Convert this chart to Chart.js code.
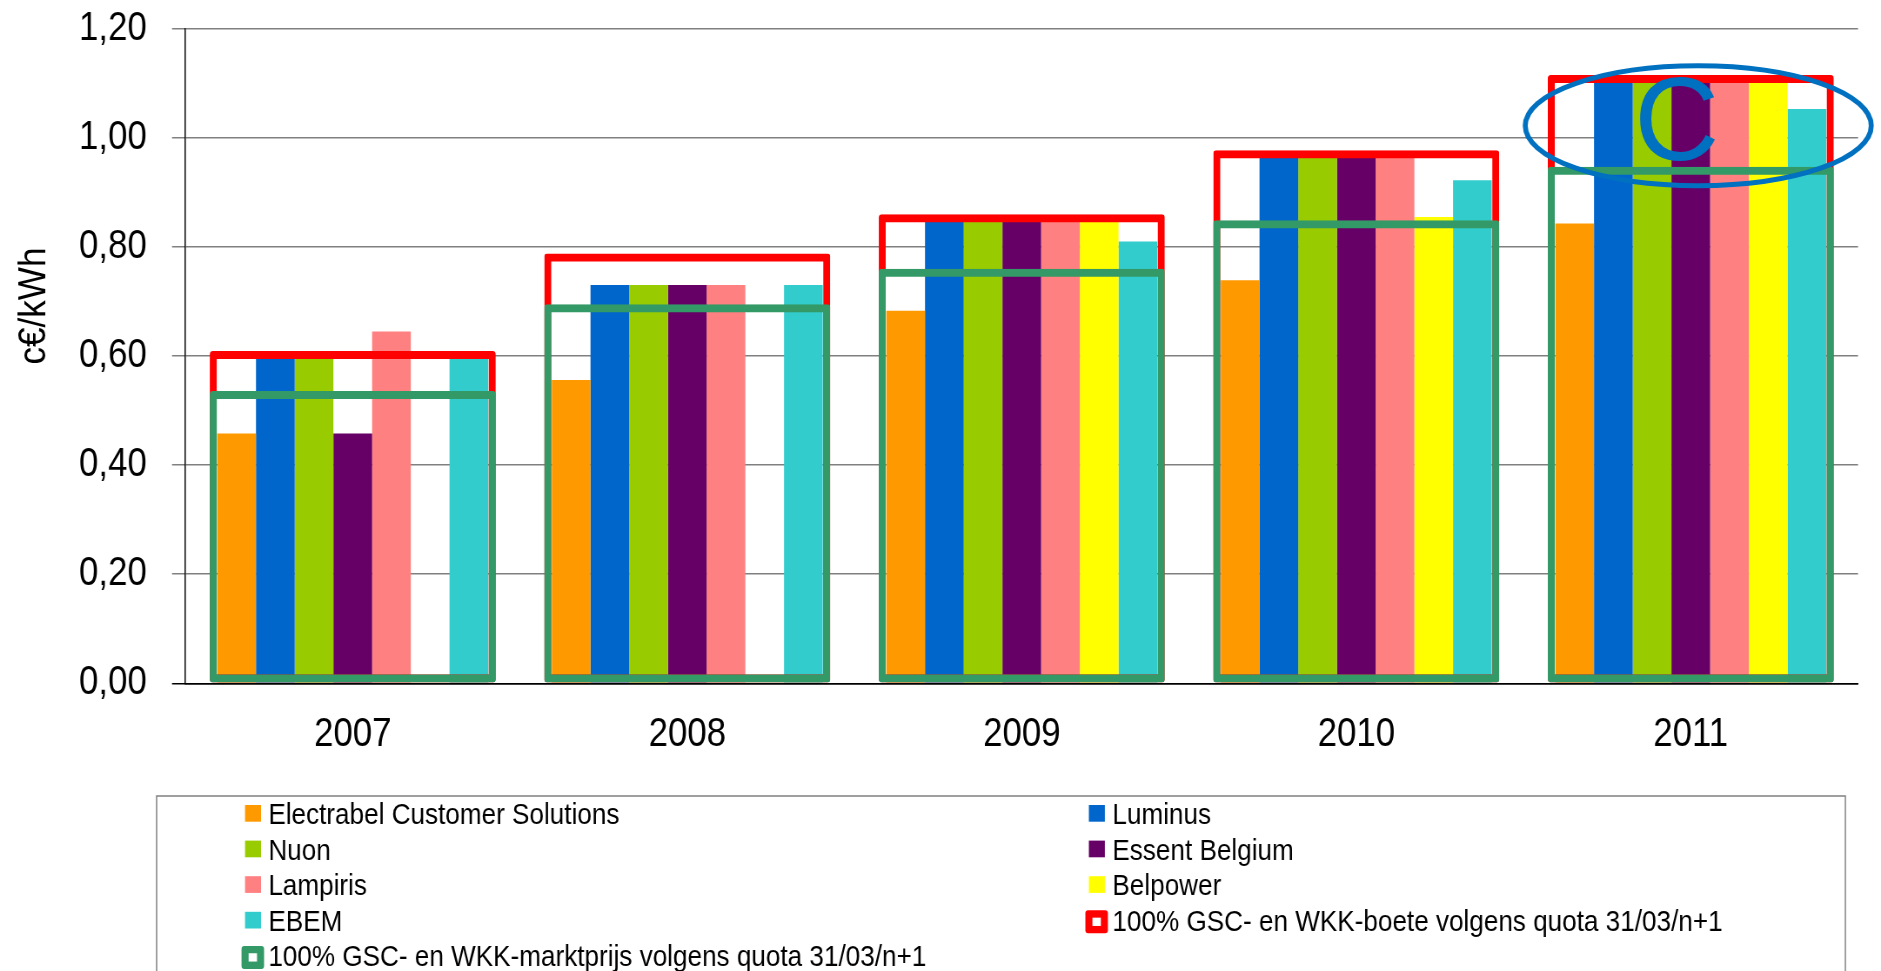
<!DOCTYPE html>
<html>
<head>
<meta charset="utf-8">
<script src="https://cdn.jsdelivr.net/npm/chart.js@4.4.0/dist/chart.umd.min.js"></script>
<style>
body{margin:0;background:#fff;overflow:hidden;}
</style>
</head>
<body>
<!-- the picture's text is narrow, so the chart is drawn wider and squeezed back by the inline size -->
<canvas id="myChart" width="2162" height="971" style="display:block;width:1881px;height:971px;"></canvas>
<script>

const years = ['2007', '2008', '2009', '2010', '2011'];

const electrabel = [0.458, 0.556, 0.683, 0.739, 0.843];
const luminus    = [0.595, 0.730, 0.846, 0.963, 1.101];
const nuon       = [0.595, 0.730, 0.846, 0.963, 1.101];
const essent     = [0.458, 0.730, 0.846, 0.963, 1.101];
const lampiris   = [0.645, 0.730, 0.846, 0.963, 1.101];
const belpower   = [null, null, 0.846, 0.855, 1.101];
const ebem       = [0.595, 0.730, 0.810, 0.922, 1.053];
const boete      = [0.609, 0.788, 0.860, 0.977, 1.115];
const marktprijs = [0.536, 0.695, 0.760, 0.849, 0.947];

const seriesNames = [
    'Electrabel Customer Solutions',
    'Luminus',
    'Nuon',
    'Essent Belgium',
    'Lampiris',
    'Belpower',
    'EBEM',
    '100% GSC- en WKK-boete volgens quota 31/03/n+1',
    '100% GSC- en WKK-marktprijs volgens quota 31/03/n+1'
];

const yMin = 0;
const yMax = 1.2;
const yStep = 0.2;
const yTitle = 'c€/kWh';

const squeeze = 1881 / 2162;
const fontFamily = '"Liberation Sans", Arial, sans-serif';

const barColors = ['#FF9900', '#0066CC', '#99CC00', '#660066', '#FF8080', '#FFFF00', '#33CCCC'];

function buildDatasets(){
    const barData = [electrabel, luminus, nuon, essent, lampiris, belpower, ebem];
    const sets = barData.map((d, i) => ({
        label: seriesNames[i],
        data: d,
        backgroundColor: barColors[i],
        borderWidth: 0,
        categoryPercentage: 0.81,
        barPercentage: 1.0
    }));
    // the two frames are drawn over the bars
    sets.push({
        label: seriesNames[7],
        data: boete,
        backgroundColor: 'rgba(0,0,0,0)',
        borderColor: '#FF0000',
        borderWidth: 8,
        borderSkipped: false,
        borderRadius: 3,
        grouped: false,
        categoryPercentage: 0.855,
        barPercentage: 1.0,
        order: -1
    });
    sets.push({
        label: seriesNames[8],
        data: marktprijs,
        backgroundColor: 'rgba(0,0,0,0)',
        borderColor: '#339966',
        borderWidth: 8,
        borderSkipped: false,
        borderRadius: 3,
        grouped: false,
        categoryPercentage: 0.855,
        barPercentage: 1.0,
        order: -2
    });
    return sets;
}

const extras = {
    id: 'extras',
    afterDraw(chart){
        const ctx = chart.ctx;
        const x = chart.scales.x;
        const y = chart.scales.y;
        const sets = chart.data.datasets;

        // y axis title, a bit above the middle like the original
        ctx.save();
        ctx.translate(40, (y.top + y.bottom) / 2 - 50);
        ctx.rotate(-Math.PI / 2);
        ctx.scale(0.9, 1 / squeeze);
        ctx.font = '39px ' + fontFamily;
        ctx.fillStyle = '#000';
        ctx.textAlign = 'center';
        ctx.textBaseline = 'middle';
        ctx.fillText(yTitle, 0, 0);
        ctx.restore();

        // legend box, two columns
        ctx.save();
        ctx.strokeStyle = '#808080';
        ctx.lineWidth = 1.5;
        ctx.strokeRect(180, 796, 1941, 200);
        ctx.font = '30px ' + fontFamily;
        ctx.textBaseline = 'alphabetic';
        ctx.textAlign = 'left';
        const swatchX = [281.6, 1251.5];
        const textX = [308.4, 1278.6];
        sets.forEach((ds, i) => {
            const col = i % 2;
            const base = 824 + 35.6 * Math.floor(i / 2);
            if (ds.grouped === false){
                const bx = swatchX[col] - 4;
                const by = base - 20.5;
                ctx.fillStyle = ds.borderColor;
                ctx.beginPath();
                ctx.roundRect(bx, by, 25.9, 23, 3);
                ctx.fill();
                ctx.fillStyle = '#fff';
                ctx.fillRect(bx + 8.1, by + 7.35, 9.7, 8.3);
            } else {
                ctx.fillStyle = ds.backgroundColor;
                ctx.fillRect(swatchX[col], base - 19, 18.4, 16.7);
            }
            ctx.fillStyle = '#000';
            ctx.fillText(ds.label, textX[col], base);
        });
        ctx.restore();

        // blue ellipse with the letter C around the 2011 tops
        const cx = x.getPixelForValue(4) + 8.6;
        const cy = y.getPixelForValue(1.022);
        ctx.save();
        ctx.translate(cx, cy);
        ctx.scale(1 / squeeze, 1);
        ctx.strokeStyle = '#0070C0';
        ctx.lineWidth = 5;
        ctx.beginPath();
        ctx.ellipse(0, 0, 173, 60, 0, 0, Math.PI * 2);
        ctx.stroke();
        ctx.fillStyle = '#0070C0';
        ctx.font = '118px ' + fontFamily;
        ctx.textAlign = 'center';
        ctx.textBaseline = 'alphabetic';
        ctx.fillText('C', -21.5, 34.5);
        ctx.restore();
    }
};

function createChart(){
    Chart.defaults.font.family = fontFamily;
    Chart.defaults.color = '#000';
    const ctx = document.getElementById('myChart').getContext('2d');
    const myChart = new Chart(ctx, {
        type: 'bar',
        data: {
            labels: years,
            datasets: buildDatasets()
        },
        options: {
            responsive: false,
            animation: false,
            devicePixelRatio: 1,
            layout: {
                padding: {top: 28.7, right: 26.4, bottom: 0, left: 0}
            },
            plugins: {
                legend: {display: false},
                tooltip: {enabled: false}
            },
            scales: {
                x: {
                    grid: {display: false, drawTicks: false},
                    border: {color: '#000', width: 1.5},
                    ticks: {
                        padding: 28,
                        color: '#000',
                        font: {size: 40}
                    },
                    afterFit: (s) => { s.height = 287.7; }
                },
                y: {
                    min: yMin,
                    max: yMax,
                    ticks: {
                        stepSize: yStep,
                        padding: 29,
                        color: '#000',
                        font: {size: 40},
                        callback: (v) => v.toFixed(2).replace('.', ',')
                    },
                    grid: {
                        color: (c) => c.tick && c.tick.value === 0 ? '#000' : '#808080',
                        lineWidth: 1.5,
                        tickLength: 15.5
                    },
                    border: {color: '#000', width: 1.5},
                    afterFit: (s) => {
                        s.width = 213.2;
                        // keep the top label from pushing the plot down
                        s.paddingTop = 0;
                        s.paddingBottom = 0;
                    }
                }
            }
        },
        plugins: [extras]
    });
}

createChart()
</script>
</body>
</html>
